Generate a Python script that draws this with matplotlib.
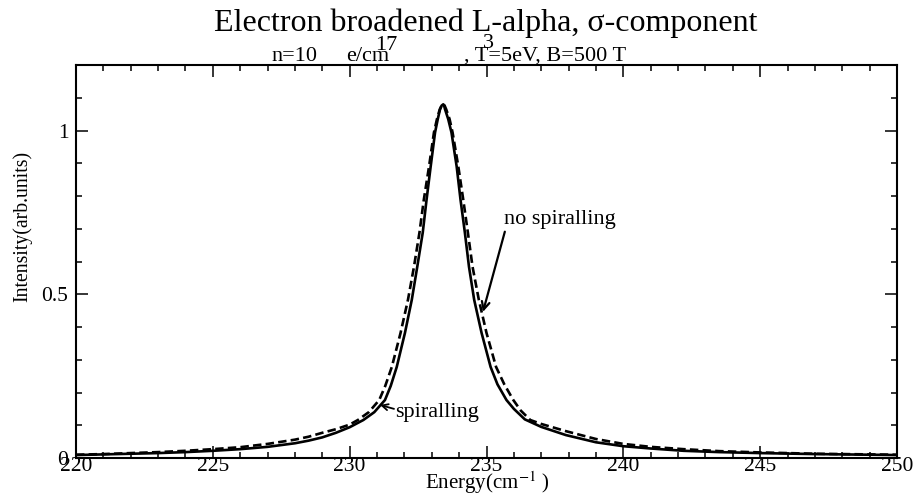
import matplotlib
matplotlib.use("Agg")
import matplotlib.pyplot as plt
from matplotlib.ticker import MultipleLocator

plt.rcParams['font.family'] = ['Liberation Serif', 'DejaVu Serif']
plt.rcParams['mathtext.fontset'] = 'stix'

# Solid curve: "spiralling"
x_spiral = [220.0, 221.0, 222.0, 223.0, 224.0, 225.0, 226.0, 227.0, 228.0, 228.5,
            229.0, 229.5, 230.0, 230.5, 230.9, 231.29, 231.5, 231.72, 232.02, 232.27,
            232.47, 232.67, 232.81, 232.96, 233.12, 233.22, 233.30, 233.36, 233.42, 233.45,
            233.48, 233.60, 233.72, 233.91, 234.05, 234.21, 234.36, 234.55, 234.82, 235.15,
            235.4, 235.73, 236.0, 236.4, 237.0, 237.9, 239.0, 240.0, 241.0, 242.2,
            243.5, 245.0, 247.0, 250.0]
y_spiral = [0.009, 0.011, 0.013, 0.015, 0.018, 0.022, 0.027, 0.034, 0.045, 0.053,
            0.063, 0.077, 0.094, 0.116, 0.140, 0.177, 0.220, 0.278, 0.382, 0.483,
            0.584, 0.688, 0.789, 0.890, 0.994, 1.035, 1.064, 1.076, 1.080, 1.077,
            1.066, 1.035, 0.994, 0.890, 0.789, 0.688, 0.584, 0.483, 0.382, 0.278,
            0.225, 0.177, 0.150, 0.118, 0.095, 0.070, 0.048, 0.036, 0.029, 0.022,
            0.018, 0.015, 0.012, 0.009]

# Dashed curve: "no spiralling"
x_nospiral = [220.0, 221.0, 222.0, 223.0, 224.0, 225.0, 226.0, 227.0, 228.0, 228.5,
              229.0, 229.5, 230.0, 230.3, 230.7, 231.08, 231.3, 231.54, 231.86, 232.13,
              232.35, 232.55, 232.71, 232.90, 233.08, 233.19, 233.29, 233.36, 233.42, 233.47,
              233.53, 233.65, 233.76, 233.97, 234.15, 234.32, 234.49, 234.72, 235.0, 235.35,
              235.65, 235.98, 236.25, 236.6, 237.0, 237.9, 239.0, 240.0, 241.0, 242.2,
              243.5, 245.0, 247.0, 250.0]
y_nospiral = [0.010, 0.012, 0.015, 0.018, 0.022, 0.027, 0.033, 0.043, 0.056, 0.065,
              0.077, 0.088, 0.102, 0.116, 0.140, 0.177, 0.220, 0.278, 0.382, 0.483,
              0.584, 0.688, 0.789, 0.890, 0.994, 1.035, 1.064, 1.076, 1.080, 1.076,
              1.064, 1.035, 0.994, 0.890, 0.789, 0.688, 0.584, 0.483, 0.382, 0.278,
              0.225, 0.177, 0.145, 0.116, 0.104, 0.082, 0.058, 0.043, 0.034, 0.027,
              0.021, 0.017, 0.013, 0.010]

x_ticks = [220, 225, 230, 235, 240, 245, 250]
y_ticks = [0, 0.5, 1]
y_tick_labels = ['0', '0.5', '1']

W, H = 917, 495
fig = plt.figure(figsize=(W/100, H/100), dpi=100)
ax = fig.add_axes([76/W, 1-458/H, (897-76)/W, (458-65)/H])

ax.plot(x_spiral, y_spiral, color='black', lw=1.9, solid_joinstyle='round')
ax.plot(x_nospiral, y_nospiral, color='black', lw=1.9, linestyle=(0, (3.2, 1.6)))

ax.set_xlim(220, 250)
ax.set_ylim(0, 1.2)
ax.set_xticks(x_ticks)
ax.set_xticklabels([str(t) for t in x_ticks])
ax.set_yticks(y_ticks)
ax.set_yticklabels(y_tick_labels)
ax.xaxis.set_minor_locator(MultipleLocator(1))
ax.yaxis.set_minor_locator(MultipleLocator(0.1))
ax.tick_params(which='both', direction='in', top=True, right=True, labelsize=15.5, width=1.1)
ax.tick_params(which='major', length=8.5)
ax.tick_params(which='minor', length=4.5)
ax.tick_params(axis='x', pad=-1)
ax.tick_params(axis='y', pad=5.5)
for s in ax.spines.values():
    s.set_linewidth(1.5)

# axis labels
fig.text(487/W, 1-489/H, r'Energy(cm$^{-1}$ )', ha='center', va='baseline', fontsize=15)
fig.text(22/W, 1-226/H, 'Intensity(arb.units)', ha='center', va='center',
         rotation=90, fontsize=14.2)

# title and subtitle
fig.text(486/W, 1-31/H, 'Electron broadened L-alpha, σ-component', ha='center',
         va='baseline', fontsize=23)
fig.text(271/W, 1-61/H, 'n=10', ha='left', va='baseline', fontsize=16)
fig.text(346/W, 1-61/H, 'e/cm', ha='left', va='baseline', fontsize=16)
fig.text(375/W, 1-50/H, '17', ha='left', va='baseline', fontsize=16)
fig.text(464/W, 1-61/H, ', T=5eV, B=500 T', ha='left', va='baseline', fontsize=16)
fig.text(483/W, 1-48/H, '3', ha='left', va='baseline', fontsize=16)

# annotations
ax.text(237.68, 0.728, 'no spiralling', ha='center', va='center', fontsize=16)
ax.annotate('', xy=(234.87, 0.446), xytext=(235.67, 0.691),
            arrowprops=dict(arrowstyle='->', color='black', lw=1.6,
                            shrinkA=0, shrinkB=0, mutation_scale=14))
ax.text(231.66, 0.138, 'spiralling', ha='left', va='center', fontsize=16)
ax.annotate('', xy=(231.11, 0.162), xytext=(231.62, 0.150),
            arrowprops=dict(arrowstyle='->', color='black', lw=1.3,
                            shrinkA=0, shrinkB=0, mutation_scale=11))

fig.savefig('out.png', dpi=100)
